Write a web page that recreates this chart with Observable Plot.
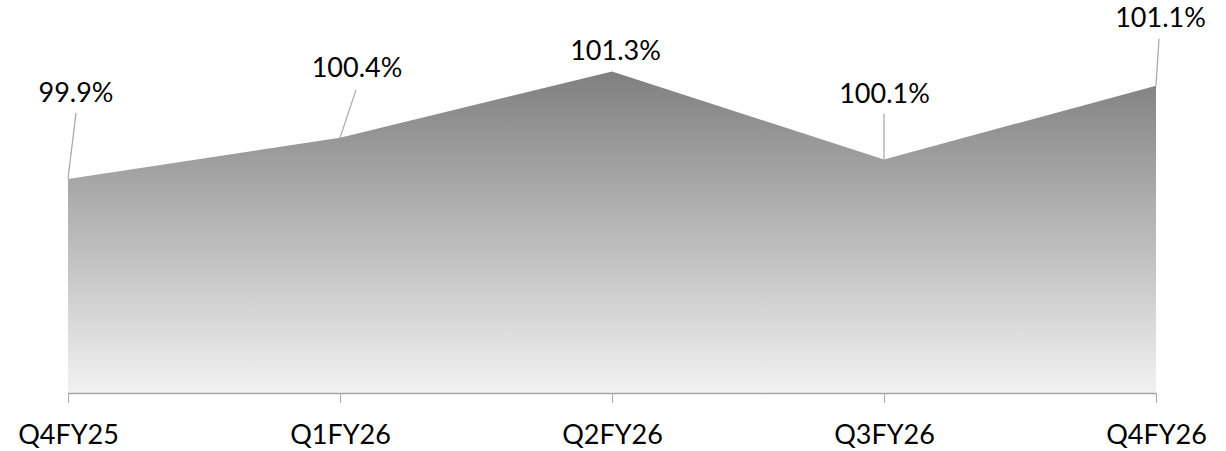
<!DOCTYPE html>
<html>
<head>
<meta charset="utf-8">
<script src="https://cdn.jsdelivr.net/npm/d3@7"></script>
<script src="https://cdn.jsdelivr.net/npm/@observablehq/plot@0.6"></script>
<style>
  html, body { margin: 0; padding: 0; background: #ffffff; }
</style>
</head>
<body>
<div id="chart"></div>
<script>
// ---- data ----
const quarters = ["Q4FY25", "Q1FY26", "Q2FY26", "Q3FY26", "Q4FY26"];
const values = [99.87, 100.42, 101.31, 100.13, 101.12];
const showLeader = [true, true, false, true, true];

// ---- layout / style ----
const yDomain = [97, 102];
const labelOffsets = [[7.5, -77], [16.5, -61], [3, -12], [0, -57], [4, -59]];
const leaderTops = [[8, -66], [16, -48], [0, 0], [0, -46], [3, -47]];
const fmt = d => d3.format(".1f")(d) + "%";

const data = quarters.map((q, i) => ({q, v: values[i], i}));

const leaders = (index, scales) => {
  const g = d3.create("svg:g");
  data.forEach((d, i) => {
    if (!showLeader[i]) return;
    const x0 = scales.x(d.q), y0 = scales.y(d.v);
    g.append("line")
      .attr("x1", x0).attr("y1", y0)
      .attr("x2", x0 + leaderTops[i][0]).attr("y2", y0 + leaderTops[i][1])
      .attr("stroke", "#a6a6a6").attr("stroke-width", 1.2);
  });
  return g.node();
};

const svg = Plot.plot({
  width: 1226,
  height: 451,
  marginLeft: 68,
  marginRight: 70,
  marginTop: 20,
  marginBottom: 58,
  style: {fontFamily: "Lato, 'Open Sans', sans-serif", fontSize: "27px", background: "#ffffff", color: "#000"},
  x: {type: "point", domain: quarters, padding: 0, label: null},
  y: {domain: yDomain, axis: null},
  marks: [
    Plot.area(data, {x1: "q", y1: yDomain[0], y2: "v", fill: "url(#areaGrad)"}),
    Plot.ruleY([yDomain[0]], {stroke: "#a6a6a6", strokeWidth: 1.5}),
    Plot.axisX({tickSize: 10, tickPadding: 21, fontSize: 27, stroke: "#a6a6a6", fill: "#000", label: null}),
    leaders,
    ...data.map((d, i) => Plot.text([d], {
      x: "q", y: "v", text: r => fmt(r.v),
      dx: labelOffsets[i][0], dy: labelOffsets[i][1],
      lineAnchor: "bottom", textAnchor: "middle", fill: "#000", fontSize: 27
    }))
  ]
});

const defs = d3.create("svg:defs");
const grad = defs.append("linearGradient").attr("id", "areaGrad")
  .attr("x1", 0).attr("y1", 0).attr("x2", 0).attr("y2", 1);
grad.append("stop").attr("offset", "0%").attr("stop-color", "#7f7f7f");
grad.append("stop").attr("offset", "100%").attr("stop-color", "#f2f2f2");
svg.insertBefore(defs.node(), svg.firstChild);

document.getElementById("chart").appendChild(svg);
</script>
</body>
</html>
